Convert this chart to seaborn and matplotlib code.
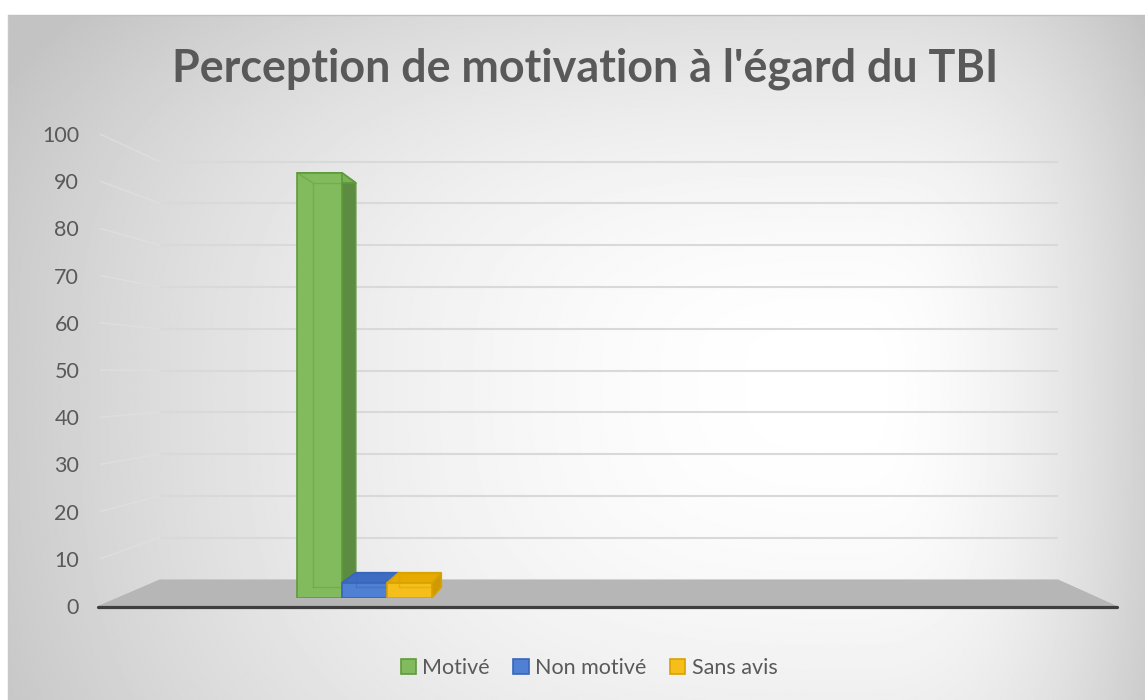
import numpy as np
import pandas as pd
import matplotlib
matplotlib.use("Agg")
import matplotlib.pyplot as plt
import seaborn as sns
from matplotlib.patches import Polygon, Patch
from matplotlib.lines import Line2D

# ---- data -------------------------------------------------------------
titre = "Perception de motivation à l'égard du TBI"
question = ["TBI", "TBI", "TBI"]
reponses = ["Motivé", "Non motivé", "Sans avis"]
pourcentages = [93.3, 3.3, 3.3]
graduations = [0, 10, 20, 30, 40, 50, 60, 70, 80, 90, 100]

# ---- colours ----------------------------------------------------------
faces = ["#82bb5e", "#4f80d3", "#f6be1a"]
aretes = ["#5f9a3c", "#3866b8", "#d8a200"]
cotes = ["#5d8b42", "#345fae", "#cf9a00"]
dessus = ["#7ab257", "#3d6cc2", "#e6aa00"]
GRIS_TEXTE = "#595959"

df = pd.DataFrame({"question": question, "reponse": reponses, "pourcentage": pourcentages})

sns.set_theme(style="white")
plt.rcParams["font.family"] = ["Lato", "DejaVu Sans"]

W, H = 1145, 700
fig = plt.figure(figsize=(W / 100, H / 100), dpi=100)
fig.patch.set_facecolor("white")


def rect(x0, y0, x1, y1):
    """Axes rectangle from pixel box (y measured from the top)."""
    return [x0 / W, 1 - y1 / H, (x1 - x0) / W, (y1 - y0) / H]


# perspective: everything recedes toward a vanishing point
VX, VY = 620.0, 375.0
S_BACK = 0.885      # back wall relative to front plane
S_BAR = 0.9654      # front face of the columns
S_DEPTH = 0.9506    # column depth (back face relative to front face)
FX0, FTOP, FX1, FZERO = 100.0, 134.0, 1115.0, 606.0   # front plane box


def project(x, y, s):
    return VX + (x - VX) * s, VY + (y - VY) * s


def front_y(v):
    return FZERO - v * (FZERO - FTOP) / 100.0


# ---- background scene -------------------------------------------------
scene = fig.add_axes([0, 0, 1, 1], zorder=0)
scene.set_xlim(0, W)
scene.set_ylim(H, 0)
scene.axis("off")

CX0, CY0 = 8, 15
gx = np.linspace(CX0, W, 700)
gy = np.linspace(CY0, H, 430)
X, Y = np.meshgrid(gx, gy)
cx, cy = 850.0, 380.0
dx = np.where(X < cx, (cx - X) / 920.0, (X - cx) / 340.0)
dy = np.where(Y < cy, (cy - Y) / 500.0, (Y - cy) / 650.0)
t = (dx ** 3 + dy ** 3) ** (1 / 3)
g = (255 - 60 * np.clip(t, 0, 1) ** 1.9) / 255.0
scene.imshow(g, cmap="gray", vmin=0, vmax=1, extent=(CX0, W, H, CY0),
             aspect="auto", interpolation="bilinear", zorder=0)
scene.plot([CX0, W], [CY0, CY0], color="#c0c0c0", lw=1.0, zorder=1)
scene.plot([CX0, CX0], [CY0, H], color="#c8c8c8", lw=1.0, zorder=1)

# wall gridlines (back wall + left side wall)
for v in graduations[1:]:
    yf = front_y(v)
    bl = project(FX0, yf, S_BACK)
    br = project(FX1, yf, S_BACK)
    scene.plot([bl[0], br[0]], [bl[1], br[1]], color="#d9d9d9", lw=1.5,
               solid_capstyle="butt", zorder=2)
    scene.plot([FX0, bl[0]], [yf, bl[1]], color="#e0e0e0", lw=1.1,
               alpha=0.75, solid_capstyle="butt", zorder=2)

# floor
bl = project(FX0, FZERO, S_BACK)
br = project(FX1, FZERO, S_BACK)
scene.add_patch(Polygon([(FX0 - 2, FZERO), (FX1 + 2, FZERO), br, bl],
                        closed=True, facecolor="#b6b6b6", edgecolor="none",
                        zorder=3))
scene.plot([FX0 - 2, FX1 + 2], [FZERO + 1, FZERO + 1], color="#3f3f3f",
           lw=2.3, solid_capstyle="round", zorder=4)

# ---- value labels on the front plane ------------------------------------
ax_front = fig.add_axes(rect(FX0, FTOP, FX1, FZERO), zorder=2)
ax_front.set_ylim(0, 100)
ax_front.set_xlim(0, 1)
ax_front.patch.set_alpha(0)
for sp in ax_front.spines.values():
    sp.set_visible(False)
ax_front.set_xticks([])
ax_front.set_yticks(graduations)
ax_front.set_yticklabels([str(v) for v in graduations])
ax_front.tick_params(axis="y", length=0, pad=15, labelsize=15.5,
                     labelcolor=GRIS_TEXTE)

# ---- columns ------------------------------------------------------------
bx0, by0 = project(FX0, FTOP, S_BAR)
bx1, by1 = project(FX1, FZERO, S_BAR)
ax = fig.add_axes(rect(bx0, by0, bx1, by1), zorder=3)
ax.patch.set_alpha(0)
sns.barplot(data=df, x="question", y="pourcentage", hue="reponse",
            hue_order=reponses, palette=faces, saturation=1, width=0.8,
            gap=0, dodge=True, legend=False, ax=ax, linewidth=1.2)
ax.set_ylim(0, 100)
px_per_unit = 135.0 / 0.8
ax_w = bx1 - bx0
xmin = -0.4 - (297.0 - bx0) / px_per_unit
ax.set_xlim(xmin, xmin + ax_w / px_per_unit)
ax.axis("off")

VXd, VYd = VX, H - VY   # vanishing point in display coordinates
to_data = ax.transData.inverted()


def back_of(pt_data):
    p = ax.transData.transform(pt_data)
    q = (VXd + (p[0] - VXd) * S_DEPTH, VYd + (p[1] - VYd) * S_DEPTH)
    return tuple(to_data.transform(q))


bars = sorted(ax.patches, key=lambda p: p.get_x())
for i, bar in enumerate(bars):
    z = 2 + 2 * i
    x0 = bar.get_x()
    x1 = x0 + bar.get_width()
    h = bar.get_height()
    b00, b10 = back_of((x0, 0)), back_of((x1, 0))
    b0h, b1h = back_of((x0, h)), back_of((x1, h))
    side = Polygon([(x1, 0), (x1, h), b1h, b10], closed=True,
                   facecolor=cotes[i], edgecolor=aretes[i], lw=1.2, zorder=z)
    top = Polygon([(x0, h), (x1, h), b1h, b0h], closed=True,
                  facecolor=dessus[i], edgecolor=aretes[i], lw=1.2, zorder=z + 0.1)
    ax.add_patch(side)
    ax.add_patch(top)
    bar.set_facecolor(faces[i])
    bar.set_edgecolor(aretes[i])
    bar.set_zorder(z + 0.5)
    # hidden back edges seen through the glassy front face
    ax.add_line(Line2D([b00[0], b0h[0], b1h[0]], [b00[1], b0h[1], b1h[1]],
                       color=aretes[i], lw=1.0, alpha=0.45, zorder=z + 0.7))
    ax.add_line(Line2D([b00[0], b10[0]], [b00[1], b10[1]],
                       color=aretes[i], lw=1.0, alpha=0.45, zorder=z + 0.7))
    ax.add_line(Line2D([x0, b0h[0]], [h, b0h[1]], color=aretes[i], lw=1.0,
                       alpha=0.45, zorder=z + 0.7))

# ---- title & legend -----------------------------------------------------
fig.text(585 / W, 1 - 81 / H, titre, ha="center", va="baseline",
         fontsize=32.3, fontweight="bold", color=GRIS_TEXTE)

handles = [Patch(facecolor=faces[i], edgecolor=aretes[i], lw=1.2,
                 label=reponses[i]) for i in range(len(reponses))]
fig.legend(handles=handles, loc="center", bbox_to_anchor=(589 / W, 1 - 668 / H),
           ncol=3, frameon=False, fontsize=15.5, handlelength=0.7,
           handleheight=0.7, handletextpad=0.3, columnspacing=1.1,
           labelcolor=GRIS_TEXTE)

fig.savefig("out.png", dpi=100)
